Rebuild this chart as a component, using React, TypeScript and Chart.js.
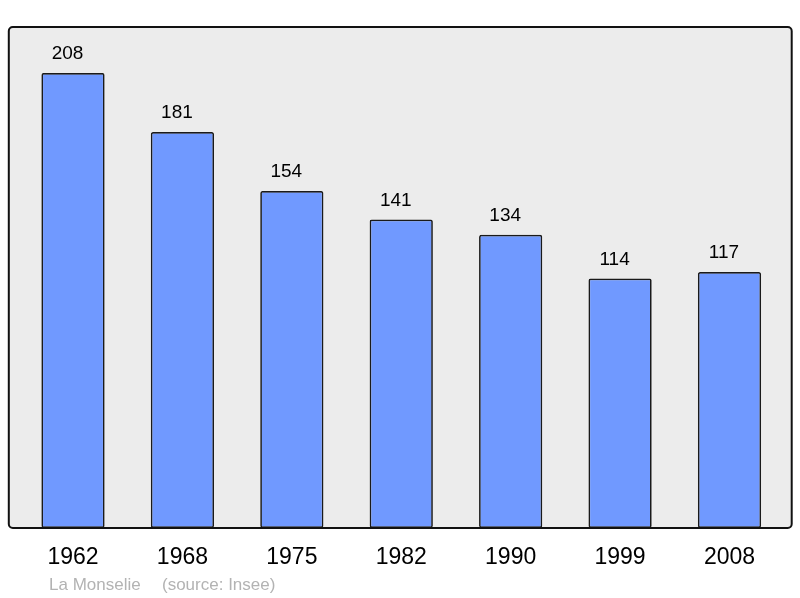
import React, { useEffect, useRef } from "react";
import { Chart, registerables } from "chart.js";

Chart.register(...registerables);

const years = ["1962", "1968", "1975", "1982", "1990", "1999", "2008"];
const population = [208, 181, 154, 141, 134, 114, 117];
const placeName = "La Monselie";
const sourceLabel = "(source: Insee)";

const FONT = "'Liberation Sans', Arial, sans-serif";

export default function App() {
  const ref = useRef<HTMLCanvasElement | null>(null);

  useEffect(() => {
    if (!ref.current) return;

    const framePlugin = {
      id: "frame",
      beforeDatasetsDraw(chart: any) {
        const { ctx, chartArea } = chart;
        const l = chartArea.left - 9.5;
        const r = chartArea.right + 7.5;
        const t = chartArea.top;
        const b = chartArea.bottom;
        ctx.save();
        ctx.beginPath();
        ctx.roundRect(l, t, r - l, b - t, 4);
        ctx.fillStyle = "#ececec";
        ctx.fill();
        ctx.restore();
      },
      afterDatasetsDraw(chart: any) {
        const { ctx, chartArea } = chart;
        const l = chartArea.left - 9.5;
        const r = chartArea.right + 7.5;
        const t = chartArea.top;
        const b = chartArea.bottom;
        ctx.save();
        ctx.beginPath();
        ctx.roundRect(l, t, r - l, b - t, 4);
        ctx.lineWidth = 2;
        ctx.strokeStyle = "#111111";
        ctx.stroke();

        // value labels
        const meta = chart.getDatasetMeta(0);
        ctx.font = `19px ${FONT}`;
        ctx.fillStyle = "#000000";
        ctx.textAlign = "center";
        ctx.textBaseline = "alphabetic";
        meta.data.forEach((bar: any, i: number) => {
          ctx.fillText(String(population[i]), bar.x - 5.5, bar.y - 14);
        });

        // source
        ctx.font = `17px ${FONT}`;
        ctx.fillStyle = "#b3b3b3";
        ctx.textAlign = "left";
        ctx.fillText(placeName, 49, 590);
        ctx.fillText(sourceLabel, 162, 590);
        ctx.restore();
      },
    };

    const chart = new Chart(ref.current, {
      type: "bar",
      data: {
        labels: years,
        datasets: [
          {
            data: population,
            backgroundColor: "#7099ff",
            borderColor: "#1a1a1a",
            borderWidth: 1.7,
            borderRadius: 2,
            borderSkipped: false,
            barPercentage: 0.578,
            categoryPercentage: 1,
          },
        ],
      },
      options: {
        animation: false,
        responsive: false,
        maintainAspectRatio: false,
        layout: { padding: { left: 18.3, right: 15.8, top: 27, bottom: 0 } },
        plugins: {
          legend: { display: false },
          tooltip: { enabled: false },
        },
        scales: {
          x: {
            offset: true,
            grid: { display: false, drawTicks: false },
            border: { display: false },
            ticks: {
              color: "#000000",
              font: { family: FONT, size: 23 },
              padding: 16,
              maxRotation: 0,
            },
            afterFit(scale: any) {
              scale.height = 70;
            },
          },
          y: {
            display: false,
            min: 0,
            max: 229,
          },
        },
      },
      plugins: [framePlugin],
    });

    return () => chart.destroy();
  }, []);

  return (
    <div style={{ position: "fixed", left: 0, top: 0, width: 800, height: 598, background: "#ffffff" }}>
      <canvas ref={ref} width={800} height={598} style={{ width: 800, height: 598, display: "block" }} />
    </div>
  );
}
